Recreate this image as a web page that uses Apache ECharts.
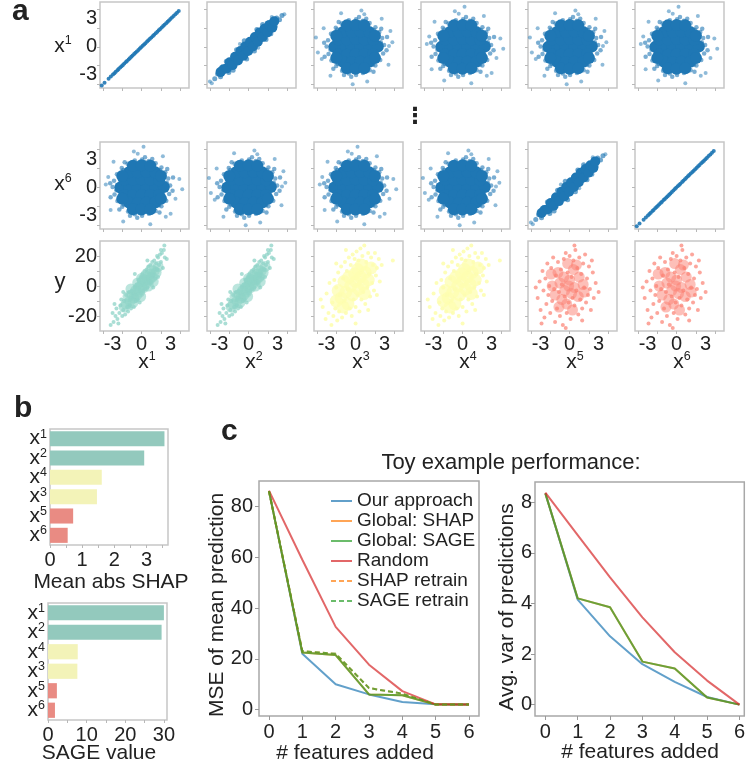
<!DOCTYPE html>
<html>
<head>
<meta charset="utf-8">
<script src="https://cdn.jsdelivr.net/npm/echarts@6/dist/echarts.min.js"></script>
<style>
html, body { margin: 0; padding: 0; background: #fff; }
#chart { width: 748px; height: 778px; }
</style>
</head>
<body>
<div id="chart"></div>
<script>
// ---- panel a: point clouds ----
// x1 vs x1 / x6 vs x6: the same sample on both axes
var lineSamples = [-4.12, -3.83, -3.41, -3.18, -2.96, -2.81, -2.67, -2.49, -2.38, -2.21, -2.07, -1.93, -1.79, -1.62, -1.51,
    -1.34, -1.22, -1.06, -0.93, -0.77, -0.64, -0.49, -0.33, -0.18, -0.05, 0.11, 0.26, 0.39, 0.57, 0.7, 0.86, 1.01,
    1.17, 1.3, 1.46, 1.63, 1.77, 1.92, 2.08, 2.23, 2.37, 2.54, 2.69, 2.83, 2.98, 3.14, 3.31, 3.49, 3.66, 3.84];

// independent features: dense round blob
var roundCore = [[-2.2, 0], [-1.3, 0.05], [-0.4, 0], [0.5, -0.05], [1.4, 0], [2.3, 0.05],
    [-1.8, 0.8], [-0.9, 0.8], [0.0, 0.85], [0.9, 0.8], [1.8, 0.75],
    [-1.8, -0.8], [-0.9, -0.85], [0.0, -0.8], [0.9, -0.8], [1.8, -0.8],
    [-1.3, 1.6], [-0.4, 1.6], [0.5, 1.65], [1.4, 1.6],
    [-1.3, -1.6], [-0.4, -1.65], [0.5, -1.6], [1.4, -1.6],
    [-0.9, 2.3], [0.0, 2.35], [0.9, 2.3], [-0.9, -2.3], [0.0, -2.35], [0.9, -2.3],
    [-2.0, 1.2], [2.0, 1.2], [-2.0, -1.2], [2.0, -1.2]];
var roundEdge = [[2.95, 0.2], [2.75, 0.95], [2.45, 1.6], [2.05, 2.1], [1.45, 2.55], [0.75, 2.8], [0.05, 2.95],
    [-0.7, 2.85], [-1.45, 2.5], [-2.05, 2.05], [-2.55, 1.4], [-2.85, 0.7], [-3.0, 0.05], [-2.8, -0.75],
    [-2.5, -1.45], [-2.0, -2.05], [-1.4, -2.55], [-0.7, -2.85], [0.05, -3.0], [0.75, -2.8], [1.45, -2.5],
    [2.05, -2.0], [2.55, -1.4], [2.85, -0.7], [3.2, -0.35], [-3.25, 0.45], [0.35, 3.2], [-0.45, -3.2],
    [2.65, 1.95], [-2.3, -2.35], [1.85, -2.65], [-1.75, 2.65], [3.25, 1.05], [-3.2, -1.05], [1.1, 3.0], [-1.2, -3.0],
    [2.6, 0.5], [-2.6, -0.3], [0.4, 2.65], [-0.2, -2.7], [1.9, 1.8], [-1.9, 1.85], [1.8, -1.9], [-1.85, -1.8]];
var roundFringeA = [[3.8, 0.5], [-3.9, -0.6], [0.6, 3.9], [-0.3, -4.0], [3.4, -1.9], [-3.3, 2.0], [2.7, 3.0],
    [-2.6, -3.1], [3.6, 1.7], [-4.1, 1.0], [1.2, -3.7], [-1.5, 3.6], [3.45, 0.1], [-3.5, -1.3], [0.9, 3.5]];
var roundFringeB = [[3.5, -1.2], [-3.7, 0.3], [-0.8, 3.8], [0.9, -3.9], [3.9, 0.9], [-3.2, -2.4], [2.2, 3.3],
    [-2.9, 2.7], [3.0, -2.8], [-1.9, -3.6], [4.2, -0.2], [0.2, 4.3], [-3.45, 1.1], [2.5, -3.1], [-0.4, 3.55]];

// strongly correlated pair (x1 vs x2, x6 vs x5)
var diagCore = [[-2.9, -2.7], [-2.6, -2.4], [-2.25, -2.3], [-1.95, -1.65], [-1.65, -1.95], [-1.4, -1.05],
    [-1.1, -1.45], [-0.85, -0.45], [-0.55, -0.95], [-0.35, 0.05], [-0.05, -0.45], [0.15, 0.55], [0.45, 0.05],
    [0.65, 1.05], [0.95, 0.55], [1.15, 1.55], [1.45, 1.05], [1.65, 1.95], [1.95, 1.55], [2.15, 2.35],
    [2.45, 2.05], [2.65, 2.75]];
var diagEdge = [[-3.2, -2.9], [-2.9, -3.2], [-3.5, -3.4], [2.9, 3.1], [3.2, 2.9], [3.45, 3.35], [-0.45, 0.65],
    [0.6, -0.45], [1.45, 2.4], [2.3, 1.4], [-1.25, -0.3], [-0.2, -1.3], [-2.3, -1.55], [-1.6, -2.5],
    [0.85, 1.85], [1.8, 0.8], [-2.05, -2.75], [2.75, 2.2]];
var diagFringe = [[-4.0, -3.7], [-3.8, -3.9], [3.7, 3.5], [-0.9, 0.3], [1.0, -0.1], [2.4, 3.2]];

// y against each feature
var tealCore = [[-1.6, -12], [-1.2, -10], [-1.0, -6], [-0.8, -8], [-0.6, -3], [-0.5, -6], [-0.3, -1], [-0.2, -4],
    [0, 0], [0.1, 3], [0.2, -1], [0.3, 4], [0.5, 2], [0.6, 6], [0.8, 4], [0.9, 8], [1.1, 6], [1.3, 10], [1.5, 9],
    [-1.4, -7], [-0.9, -11], [0.4, 7], [1.0, 11], [-0.1, -7], [0.7, 0], [-1.8, -14], [1.7, 13], [-0.4, 2],
    [0.0, 5], [-1.1, -2], [1.2, 3]];
var tealDots = [[-3.2, -26], [-2.9, -24], [-2.7, -20], [-2.5, -22], [-2.6, -15], [-2.3, -18], [-2.2, -13],
    [-2.0, -20], [-2.1, -9], [-1.9, -16], [-1.8, -10], [-1.7, -19], [-1.6, -6], [-1.5, -14], [-1.4, -17],
    [-1.3, -4], [-1.2, -13], [-1.1, -15], [-1.0, -3], [-0.9, -7], [-0.8, -14], [-0.7, -1], [-0.6, -10],
    [-0.5, 1], [-0.4, -9], [-0.3, 4], [-0.2, -11], [-0.1, 6], [0.0, -5], [0.1, 8], [0.2, -3], [0.3, 10],
    [0.4, -2], [0.5, 11], [0.6, -1], [0.7, 13], [0.8, 2], [0.9, 14], [1.0, 3], [1.1, 16], [1.2, 7], [1.3, 17],
    [1.4, 5], [1.5, 15], [1.6, 11], [1.7, 19], [1.8, 14], [1.9, 21], [2.0, 16], [2.1, 22], [2.2, 12], [2.3, 24],
    [2.35, 27], [2.4, 19], [2.0, 24], [1.6, 20], [-2.4, -25], [-3.0, -18], [-1.9, -4], [1.2, -1], [0.6, 17],
    [-0.7, 8], [2.6, 18], [-2.8, -12], [1.7, 6]];
var yellowCore = [[-1.5, -8], [-1.0, -4], [-0.5, 0], [0, 3], [0.5, 6], [1.0, 9], [-1.2, 3], [-0.3, -6], [0.3, -2],
    [0.8, 1], [-0.8, -12], [0.2, 11], [-1.8, -3], [1.3, 4], [-0.1, 8], [-0.7, 6], [0.6, 14], [-1.3, -14],
    [1.6, 12], [-2.0, -10], [0.9, -5]];
var yellowDots = [[-3.4, -14], [-3.1, -22], [-3.0, -5], [-2.8, -18], [-2.7, 2], [-2.5, -26], [-2.4, -11],
    [-2.3, -20], [-2.2, 4], [-2.1, -15], [-2.0, -1], [-1.9, -23], [-1.8, 9], [-1.7, -17], [-1.6, -6], [-1.5, 13],
    [-1.4, -21], [-1.3, 5], [-1.2, -10], [-1.1, 16], [-1.0, -18], [-0.9, 10], [-0.8, -2], [-0.7, 19],
    [-0.6, -15], [-0.5, 14], [-0.4, -20], [-0.3, 21], [-0.2, -9], [-0.1, 18], [0.0, -14], [0.1, 23], [0.2, -6],
    [0.3, 17], [0.4, -17], [0.5, 25], [0.6, -9], [0.7, 20], [0.8, -4], [0.9, 27], [1.0, -12], [1.1, 16],
    [1.2, -1], [1.3, 22], [1.4, 8], [1.5, -7], [1.6, 19], [1.7, 2], [1.8, 14], [1.9, -3], [2.0, 22], [2.1, 7],
    [2.2, 12], [2.4, 18], [2.5, 3], [2.7, 14], [3.85, 17], [-3.6, -9], [0.0, -25], [-1.0, 24], [2.2, -6],
    [1.3, -16], [-2.0, 15]];
var salmonCore = [[-1.5, -6], [-1.0, 2], [-0.5, -3], [0, 4], [0.5, -1], [1.0, 6], [-1.2, 9], [-0.3, -12], [0.4, 11],
    [0.9, -7], [-0.8, -9], [-0.1, 0], [1.4, 1], [-1.8, 0], [0.2, -5], [-0.6, 6], [0.7, 14], [-1.1, -14],
    [1.5, -4], [-0.2, 15], [-1.9, 8], [0.3, -16]];
var salmonDots = [[-3.3, -8], [-3.1, 3], [-3.0, -16], [-2.8, 10], [-2.7, -3], [-2.6, -21], [-2.5, 5], [-2.4, -12],
    [-2.3, 15], [-2.2, -6], [-2.1, 0], [-2.0, -18], [-1.9, 12], [-1.8, -10], [-1.7, 19], [-1.6, -2],
    [-1.5, -24], [-1.4, 7], [-1.3, -15], [-1.2, 16], [-1.1, -4], [-1.0, -20], [-0.9, 11], [-0.8, 1],
    [-0.7, -26], [-0.6, 18], [-0.5, -7], [-0.4, 22], [-0.3, -18], [-0.2, 9], [-0.1, -11], [0.0, 20],
    [0.1, -22], [0.2, 6], [0.3, -8], [0.4, 17], [0.5, -13], [0.6, 24], [0.7, -3], [0.8, 12], [0.9, -19],
    [1.0, 19], [1.1, -9], [1.2, 8], [1.3, -15], [1.4, 15], [1.5, -1], [1.6, 21], [1.7, -11], [1.8, 5],
    [1.9, -6], [2.0, 13], [2.1, -2], [2.2, -16], [2.4, 9], [2.5, -8], [2.7, 2], [3.0, -4], [-3.5, -1],
    [-2.9, -25], [0.5, 27], [-0.4, -28], [1.3, -23], [2.3, 17]];

var featureTicks = [-3, 0, 3];
var yTicks = [-20, 0, 20];

// ---- panel b ----
var barFeatures = ['1', '2', '4', '3', '5', '6'];
var shapValues = [3.56, 2.93, 1.61, 1.46, 0.72, 0.55];
var sageValues = [30.0, 29.4, 7.7, 7.6, 2.3, 1.8];

// ---- panel c ----
var featuresAdded = [0, 1, 2, 3, 4, 5, 6];
var mseOurs = [86, 22, 10, 6, 3, 2.1, 2];
var mseShap = [86, 22.5, 21.5, 6, 5.7, 2, 2];
var mseSage = [86, 22.5, 21.5, 6, 5.7, 2, 2];
var mseRandom = [86.2, 59, 32.6, 17.7, 7.3, 2.1, 2];
var mseShapRetrain = [86, 23, 22, 8.5, 6.3, 2, 2];
var mseSageRetrain = [86, 23, 22, 8.5, 6.3, 2, 2];
var varOurs = [8.35, 4.15, 2.7, 1.6, 0.9, 0.3, 0];
var varShap = [8.35, 4.2, 3.85, 1.7, 1.43, 0.28, 0];
var varSage = [8.35, 4.2, 3.85, 1.7, 1.43, 0.28, 0];
var varRandom = [8.38, 6.7, 5.03, 3.45, 2.07, 0.95, 0];

var FONT = '"Liberation Sans", Arial, sans-serif';
var BLUE = '#1f77b4', TEAL = '#8dd3c7', YELLOW = '#fdfdb0', SALMON = '#fb8072';
var TEXT = '#222';

var grids = [], xAxes = [], yAxes = [], series = [], graphics = [];

function addGrid(left, top, width, height, border) {
    grids.push({left: left, top: top, width: width, height: height, show: true,
        borderColor: border || '#c6c6c6', borderWidth: 1.5, backgroundColor: '#fff'});
    return grids.length - 1;
}

function valueAxis(gi, min, max, ticks, labels) {
    return {
        type: 'value', gridIndex: gi, min: min, max: max,
        splitLine: {show: false},
        axisLine: {show: false, onZero: false},
        axisTick: {show: true, customValues: ticks, length: 3, lineStyle: {color: '#b8b8b8'}},
        axisLabel: {show: !!labels, customValues: labels || [], fontSize: 20, color: TEXT, fontFamily: FONT, margin: 3}
    };
}

function addPoints(gi, data, color, size, opacity) {
    series.push({type: 'scatter', xAxisIndex: gi, yAxisIndex: gi, data: data, symbolSize: size,
        itemStyle: {color: color, opacity: opacity}, silent: true, animation: false});
}

function addText(x, y, text, size, opts) {
    opts = opts || {};
    graphics.push({type: 'text', x: x, y: y, rotation: opts.rotation || 0, z: 100, silent: true,
        style: {text: text, fontSize: size, fontFamily: opts.family || FONT, fontWeight: opts.weight || 'normal',
            fill: TEXT, align: opts.align || 'center', textAlign: opts.align || 'center',
            verticalAlign: 'middle', textVerticalAlign: 'middle', rich: opts.rich}});
}

var supRich = {
    m: {fontSize: 21, lineHeight: 24, fontFamily: FONT, fill: TEXT, color: TEXT},
    s: {fontSize: 12.5, lineHeight: 14, fontFamily: FONT, fill: TEXT, color: TEXT, verticalAlign: 'top'}
};
function supText(x, y, base, sup) {
    addText(x, y, '{m|' + base + '}{s|' + sup + '}', 21, {rich: supRich});
}

// ---- panel a layout ----
var colLeft = [100, 207, 314, 421, 528, 635];
var rowTop = [2, 142, 241];
var rowHeight = [86, 87, 90];
var kinds = [
    ['line', 'diag', 'roundA', 'roundB', 'roundA', 'roundB'],
    ['roundB', 'roundA', 'roundB', 'roundA', 'diag', 'line'],
    ['teal', 'teal', 'yellow', 'yellow', 'salmon', 'salmon']
];

for (var r = 0; r < 3; r++) {
    for (var c = 0; c < 6; c++) {
        var gi = addGrid(colLeft[c], rowTop[r], 89, rowHeight[r]);
        xAxes.push(valueAxis(gi, -4.3, 4.9, [-4, -2, 0, 2, 4], r === 2 ? featureTicks : null));
        if (r < 2) {
            yAxes.push(valueAxis(gi, -4.4, 4.8, [-4, -2, 0, 2, 4], c === 0 ? featureTicks : null));
        } else {
            yAxes.push(valueAxis(gi, -30, 30, [-20, -10, 0, 10, 20], c === 0 ? yTicks : null));
        }
        var k = kinds[r][c];
        if (k === 'line') {
            addPoints(gi, lineSamples.map(function (v) { return [v, v]; }), BLUE, 4, 0.9);
        } else if (k === 'diag') {
            addPoints(gi, diagFringe, BLUE, 4, 0.5);
            addPoints(gi, diagEdge, BLUE, 5, 0.65);
            addPoints(gi, diagCore, BLUE, 10, 1);
        } else if (k === 'roundA' || k === 'roundB') {
            addPoints(gi, k === 'roundA' ? roundFringeA : roundFringeB, BLUE, 4, 0.5);
            addPoints(gi, roundEdge, BLUE, 4.5, 0.6);
            addPoints(gi, roundCore, BLUE, 12, 1);
        } else if (k === 'teal') {
            addPoints(gi, tealCore, TEAL, 11, 0.6);
            addPoints(gi, tealDots, TEAL, 4, 0.75);
        } else if (k === 'yellow') {
            addPoints(gi, yellowCore, YELLOW, 13, 0.75);
            addPoints(gi, yellowDots, YELLOW, 4, 0.9);
        } else {
            addPoints(gi, salmonCore, SALMON, 11, 0.5);
            addPoints(gi, salmonDots, SALMON, 4, 0.7);
        }
    }
}

addText(12, 12, 'a', 30, {weight: 'bold', align: 'left'});
supText(63, 46, 'x', '1');
supText(63, 184, 'x', '6');
addText(60, 282, 'y', 22);
for (var c2 = 0; c2 < 6; c2++) {
    supText(colLeft[c2] + 47, 362, 'x', String(c2 + 1));
}
addText(415, 117, '\u22ee', 22, {weight: 'bold', family: '"DejaVu Sans", sans-serif'});

// ---- panel b ----
var barColors = ['#93c9bd', '#93c9bd', '#f3f3b8', '#f3f3b8', '#e98b83', '#e98b83'];
function barYAxis(gi) {
    return {type: 'category', gridIndex: gi, data: barFeatures, inverse: true,
        axisLine: {show: false}, axisTick: {show: false}, splitLine: {show: false},
        axisLabel: {interval: 0, margin: 3, formatter: function (v) { return '{m|x}{s|' + v + '}'; },
            rich: {m: {fontSize: 21, lineHeight: 22, fontFamily: FONT, color: TEXT},
                s: {fontSize: 12.5, lineHeight: 13, fontFamily: FONT, color: TEXT, verticalAlign: 'top'}}}};
}
function addBars(gi, values) {
    series.push({type: 'bar', xAxisIndex: gi, yAxisIndex: gi, barCategoryGap: '22%', animation: false,
        data: values.map(function (v, i) { return {value: v, itemStyle: {color: barColors[i]}}; })});
}

var gb1 = addGrid(50, 429, 118, 116);
xAxes.push(valueAxis(gb1, 0, 3.67, [0, 0.5, 1, 1.5, 2, 2.5, 3, 3.5], [0, 1, 2, 3]));
xAxes[gb1].axisLabel.margin = 5;
yAxes.push(barYAxis(gb1));
addBars(gb1, shapValues);

var gb2 = addGrid(48, 603, 119, 117);
xAxes.push(valueAxis(gb2, 0, 30.8, [0, 5, 10, 15, 20, 25, 30], [0, 10, 20, 30]));
xAxes[gb2].axisLabel.margin = 5;
yAxes.push(barYAxis(gb2));
addBars(gb2, sageValues);

addText(14, 409, 'b', 30, {weight: 'bold', align: 'left'});
addText(111, 582, 'Mean abs SHAP', 21);
addText(99, 753, 'SAGE value', 21);

// ---- panel c ----
var lineColors = {ours: '#1f77b4', shap: '#ff7f0e', sage: '#2ca02c', random: '#d62728'};
function addLine(gi, name, values, color, dashed) {
    series.push({type: 'line', name: name, xAxisIndex: gi, yAxisIndex: gi, symbol: 'none', animation: false,
        data: featuresAdded.map(function (f, i) { return [f, values[i]]; }),
        itemStyle: {color: color},
        lineStyle: {color: color, width: 2, opacity: 0.7, type: dashed ? [5, 3] : 'solid'}});
}
function lineAxis(gi, min, max, ticks) {
    var ax = valueAxis(gi, min, max, ticks, ticks);
    ax.axisTick.length = 4;
    ax.axisTick.lineStyle.color = '#999';
    ax.axisLabel.margin = 6;
    return ax;
}

var gc1 = addGrid(259, 481, 220, 235, '#a8a8a8');
xAxes.push(lineAxis(gc1, -0.3, 6.3, featuresAdded));
yAxes.push(lineAxis(gc1, -2.5, 90, [0, 20, 40, 60, 80]));
addLine(gc1, 'Our approach', mseOurs, lineColors.ours, false);
addLine(gc1, 'Global: SHAP', mseShap, lineColors.shap, false);
addLine(gc1, 'Global: SAGE', mseSage, lineColors.sage, false);
addLine(gc1, 'Random', mseRandom, lineColors.random, false);
addLine(gc1, 'SHAP retrain', mseShapRetrain, lineColors.shap, true);
addLine(gc1, 'SAGE retrain', mseSageRetrain, lineColors.sage, true);

// right panel runs past the page edge in the original
var gc2 = addGrid(535, 482, 214, 234, '#a8a8a8');
xAxes.push(lineAxis(gc2, -0.32, 6.15, featuresAdded));
yAxes.push(lineAxis(gc2, -0.45, 8.8, [0, 2, 4, 6, 8]));
yAxes[gc2].axisLabel.margin = 3;
addLine(gc2, 'Our approach', varOurs, lineColors.ours, false);
addLine(gc2, 'Global: SHAP', varShap, lineColors.shap, false);
addLine(gc2, 'Global: SAGE', varSage, lineColors.sage, false);
addLine(gc2, 'Random', varRandom, lineColors.random, false);

addText(221, 432, 'c', 30, {weight: 'bold', align: 'left'});
addText(511, 463, 'Toy example performance:', 22);
addText(217, 605, 'MSE of mean prediction', 21, {rotation: Math.PI / 2});
addText(355, 753, '# features added', 21);
addText(507, 607, 'Avg. var of predictions', 21, {rotation: Math.PI / 2});
addText(640, 752, '# features added', 21);

var myChart = echarts.init(document.getElementById('chart'));
var option = {
    backgroundColor: '#fff',
    animation: false,
    textStyle: {fontFamily: FONT},
    grid: grids,
    xAxis: xAxes,
    yAxis: yAxes,
    legend: {
        data: ['Our approach', 'Global: SHAP', 'Global: SAGE', 'Random', 'SHAP retrain', 'SAGE retrain'],
        orient: 'vertical', left: 325, top: 486, itemWidth: 21, itemHeight: 2, itemGap: 0,
        selectedMode: false,
        itemStyle: {opacity: 0},
        textStyle: {fontSize: 19, fontFamily: FONT, color: TEXT, lineHeight: 20}
    },
    series: series,
    graphic: graphics
};
myChart.setOption(option);
</script>
</body>
</html>
